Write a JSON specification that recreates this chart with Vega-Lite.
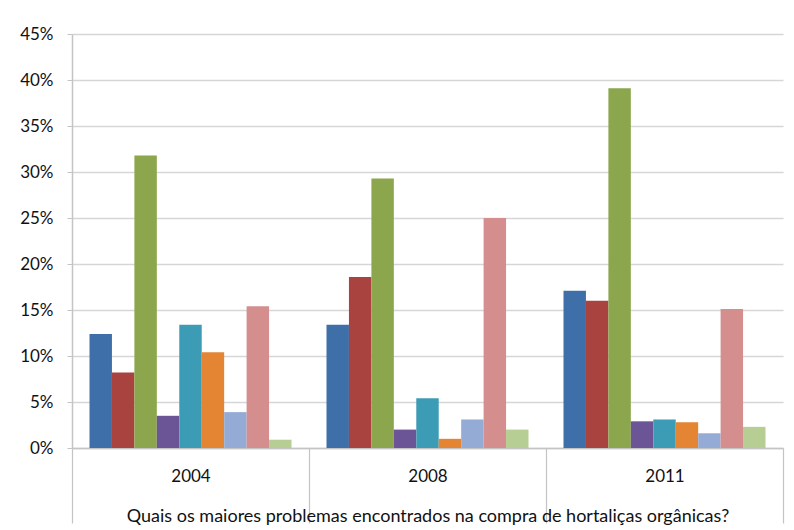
{
  "$schema": "https://vega.github.io/schema/vega-lite/v6.json",
  "width": 711,
  "height": 414,
  "autosize": "none",
  "padding": {"left": 72, "top": 34, "right": 11, "bottom": 82},
  "background": "white",
  "config": {"view": {"stroke": null}, "font": "Lato"},
  "data": {
    "values": [
      {"year": "2004", "cat": "c1", "value": 0.124},
      {"year": "2004", "cat": "c2", "value": 0.082},
      {"year": "2004", "cat": "c3", "value": 0.318},
      {"year": "2004", "cat": "c4", "value": 0.035},
      {"year": "2004", "cat": "c5", "value": 0.134},
      {"year": "2004", "cat": "c6", "value": 0.104},
      {"year": "2004", "cat": "c7", "value": 0.039},
      {"year": "2004", "cat": "c8", "value": 0.154},
      {"year": "2004", "cat": "c9", "value": 0.009},
      {"year": "2008", "cat": "c1", "value": 0.134},
      {"year": "2008", "cat": "c2", "value": 0.186},
      {"year": "2008", "cat": "c3", "value": 0.293},
      {"year": "2008", "cat": "c4", "value": 0.020},
      {"year": "2008", "cat": "c5", "value": 0.054},
      {"year": "2008", "cat": "c6", "value": 0.010},
      {"year": "2008", "cat": "c7", "value": 0.031},
      {"year": "2008", "cat": "c8", "value": 0.250},
      {"year": "2008", "cat": "c9", "value": 0.020},
      {"year": "2011", "cat": "c1", "value": 0.171},
      {"year": "2011", "cat": "c2", "value": 0.160},
      {"year": "2011", "cat": "c3", "value": 0.391},
      {"year": "2011", "cat": "c4", "value": 0.029},
      {"year": "2011", "cat": "c5", "value": 0.031},
      {"year": "2011", "cat": "c6", "value": 0.028},
      {"year": "2011", "cat": "c7", "value": 0.016},
      {"year": "2011", "cat": "c8", "value": 0.151},
      {"year": "2011", "cat": "c9", "value": 0.023}
    ]
  },
  "mark": {"type": "bar"},
  "encoding": {
    "x": {
      "field": "year",
      "type": "nominal",
      "scale": {"paddingInner": 0, "paddingOuter": 0},
      "axis": {
        "title": "Quais os maiores problemas encontrados na compra de hortaliças orgânicas?",
        "labelAngle": 0,
        "tickBand": "extent",
        "tickSize": 75,
        "tickColor": "#c4c4c4",
        "tickWidth": 1.2,
        "domainColor": "#c4c4c4",
        "domainWidth": 1.5,
        "labelFont": "Lato",
        "labelFontSize": 17,
        "labelColor": "#111111",
        "labelBaseline": "alphabetic",
        "labelPadding": -42,
        "titleFont": "Lato",
        "titleFontSize": 18,
        "titleFontWeight": "normal",
        "titleColor": "#111111",
        "titleBaseline": "alphabetic",
        "titleY": 73
      }
    },
    "xOffset": {
      "field": "cat",
      "type": "nominal",
      "scale": {"paddingInner": 0, "paddingOuter": 0.78}
    },
    "y": {
      "field": "value",
      "type": "quantitative",
      "scale": {"domain": [0, 0.45], "nice": false},
      "axis": {
        "title": null,
        "format": ".0%",
        "values": [0, 0.05, 0.1, 0.15, 0.2, 0.25, 0.3, 0.35, 0.4, 0.45],
        "grid": true,
        "gridColor": "#d6d6d6",
        "gridWidth": 1.5,
        "tickSize": 5,
        "tickColor": "#c4c4c4",
        "domainColor": "#c4c4c4",
        "domainWidth": 1.5,
        "labelPadding": 14,
        "labelFont": "Lato",
        "labelFontSize": 17,
        "labelColor": "#111111"
      }
    },
    "color": {
      "field": "cat",
      "type": "nominal",
      "scale": {
        "domain": ["c1", "c2", "c3", "c4", "c5", "c6", "c7", "c8", "c9"],
        "range": ["#3e6fa9", "#a9433f", "#8ba64c", "#6c5597", "#3c9bb5", "#e38533", "#94abd6", "#d48e8e", "#b6cd93"]
      },
      "legend": null
    }
  }
}
